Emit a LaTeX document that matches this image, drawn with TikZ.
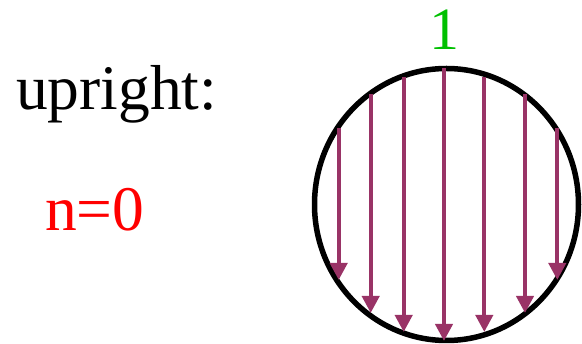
\documentclass[tikz,border=0pt]{standalone}
\usepackage{fontspec}
\setmainfont{Liberation Serif}
\usetikzlibrary{arrows.meta,shapes.geometric}
\definecolor{arrowpurple}{HTML}{993366}
\definecolor{labelgreen}{HTML}{00C000}
\begin{document}
\begin{tikzpicture}[x=1pt,y=-1pt,
  lbl/.style={inner sep=0pt,anchor=base,font=\fontsize{60}{60}\selectfont},
  biglbl/.style={lbl,font=\fontsize{63.5}{64}\selectfont},
  fieldarrow/.style={draw=arrowpurple,line width=4pt,-{Triangle[width=17pt,length=17pt]},fill=arrowpurple}]
\useasboundingbox (0,0) rectangle (582,344);
\node[biglbl,anchor=base west] (up) at (16,110) {upright:};
\node[biglbl,anchor=base west,text=red] (n) at (45,231) {n=0};
\node[lbl,text=labelgreen] (one) at (444,50) {1};
\node[draw=black,line width=5.5pt,ellipse,minimum width=264pt,minimum height=272pt,inner sep=0pt] (c) at (446.5,204.5) {};
\foreach \i/\x/\t/\b in {1/338.7/128/280, 2/370.7/94/313, 3/403.7/77/332, 4/444/68/341, 5/484.3/77/332, 6/525/94/313, 7/557.3/128/280}{
  \coordinate (s\i) at (\x,\t);
  \coordinate (e\i) at (\x,\b);
  \draw[fieldarrow] (s\i) -- (e\i);
}
\end{tikzpicture}
\end{document}
